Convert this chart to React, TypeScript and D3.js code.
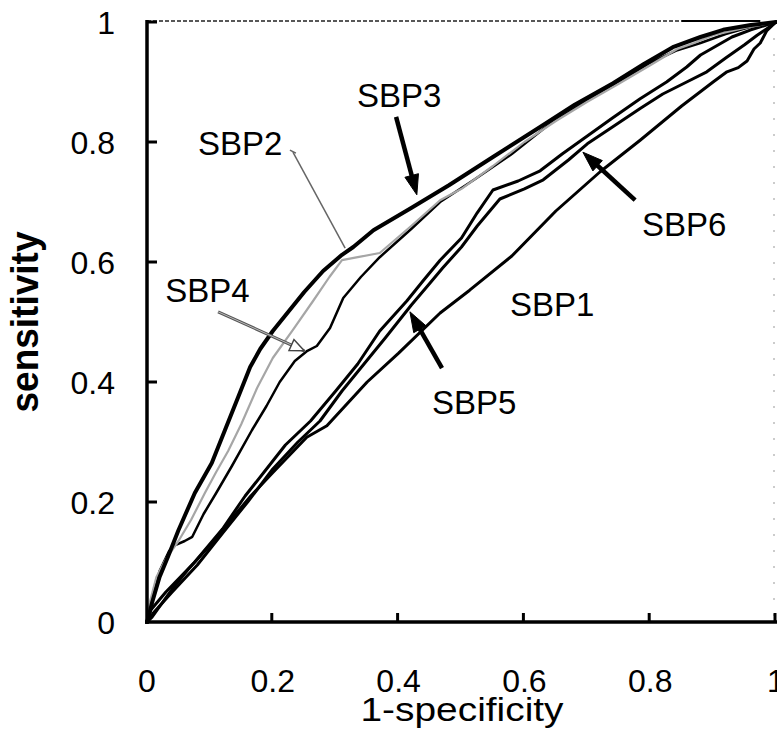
import React, { useEffect, useRef } from "react";
import * as d3 from "d3";

// ROC curves, [1-specificity, sensitivity]
const sbp1 = [
  [0, 0], [0.008, 0.008], [0.04, 0.055], [0.065, 0.087], [0.1, 0.128], [0.129, 0.165],
  [0.165, 0.21], [0.199, 0.248], [0.254, 0.308], [0.286, 0.327], [0.35, 0.4], [0.4, 0.448],
  [0.466, 0.515], [0.513, 0.553], [0.58, 0.61], [0.65, 0.685], [0.72, 0.75], [0.784, 0.803],
  [0.85, 0.86], [0.9, 0.9], [0.922, 0.917], [0.94, 0.924], [0.954, 0.935], [0.965, 0.955],
  [0.975, 0.965], [0.985, 0.985], [1, 1],
];
const sbp2 = [
  [0, 0], [0.005, 0.035], [0.015, 0.075], [0.03, 0.105], [0.05, 0.135], [0.07, 0.17],
  [0.092, 0.215], [0.11, 0.25], [0.129, 0.285], [0.15, 0.33], [0.175, 0.39], [0.2, 0.44],
  [0.232, 0.487], [0.264, 0.535], [0.29, 0.575], [0.31, 0.603], [0.335, 0.608], [0.37, 0.615],
  [0.42, 0.66], [0.466, 0.703], [0.5, 0.722], [0.55, 0.76], [0.6, 0.8], [0.65, 0.835],
  [0.7, 0.867], [0.75, 0.897], [0.8, 0.928], [0.843, 0.955], [0.87, 0.965], [0.9, 0.978],
  [0.95, 0.99], [1, 1],
];
const sbp3 = [
  [0, 0], [0.004, 0.015], [0.008, 0.032], [0.02, 0.075], [0.033, 0.108], [0.05, 0.153],
  [0.076, 0.215], [0.103, 0.265], [0.124, 0.32], [0.145, 0.375], [0.164, 0.425], [0.18, 0.455],
  [0.2, 0.485], [0.25, 0.55], [0.28, 0.585], [0.31, 0.612], [0.328, 0.625], [0.36, 0.653],
  [0.42, 0.69], [0.48, 0.728], [0.55, 0.775], [0.625, 0.825], [0.68, 0.862], [0.741, 0.898],
  [0.79, 0.93], [0.836, 0.958], [0.88, 0.975], [0.916, 0.987], [0.96, 0.995], [1, 1],
];
const sbp4 = [
  [0, 0], [0.008, 0.04], [0.02, 0.085], [0.035, 0.118], [0.045, 0.128], [0.06, 0.135],
  [0.072, 0.142], [0.09, 0.18], [0.11, 0.215], [0.135, 0.26], [0.167, 0.32], [0.19, 0.36],
  [0.211, 0.4], [0.235, 0.435], [0.255, 0.452], [0.27, 0.46], [0.291, 0.49], [0.312, 0.54],
  [0.34, 0.575], [0.37, 0.608], [0.42, 0.655], [0.466, 0.7], [0.52, 0.737], [0.58, 0.78],
  [0.64, 0.83], [0.7, 0.87], [0.75, 0.9], [0.8, 0.932], [0.843, 0.953], [0.88, 0.965],
  [0.92, 0.98], [0.96, 0.992], [1, 1],
];
const sbp5 = [
  [0, 0], [0.006, 0.02], [0.03, 0.05], [0.076, 0.1], [0.12, 0.155], [0.156, 0.21],
  [0.19, 0.255], [0.22, 0.295], [0.26, 0.335], [0.3, 0.385], [0.335, 0.43], [0.37, 0.485],
  [0.413, 0.535], [0.44, 0.57], [0.466, 0.603], [0.5, 0.64], [0.525, 0.682], [0.55, 0.72],
  [0.59, 0.735], [0.625, 0.752], [0.66, 0.78], [0.7, 0.81], [0.74, 0.84], [0.784, 0.872],
  [0.826, 0.9], [0.858, 0.925], [0.88, 0.945], [0.93, 0.975], [0.96, 0.987], [1, 1],
];
const sbp6 = [
  [0, 0], [0.01, 0.015], [0.04, 0.05], [0.08, 0.095], [0.12, 0.148], [0.16, 0.2],
  [0.2, 0.255], [0.24, 0.3], [0.275, 0.335], [0.31, 0.385], [0.345, 0.43], [0.38, 0.475],
  [0.42, 0.528], [0.45, 0.565], [0.47, 0.59], [0.5, 0.625], [0.525, 0.66], [0.561, 0.705],
  [0.6, 0.722], [0.63, 0.737], [0.67, 0.77], [0.7, 0.797], [0.74, 0.825], [0.784, 0.856],
  [0.82, 0.88], [0.858, 0.9], [0.89, 0.917], [0.92, 0.94], [0.95, 0.962], [0.97, 0.978],
  [0.99, 0.992], [1, 1],
];

const ticks = [0, 0.2, 0.4, 0.6, 0.8, 1];
const tickLabels = ["0", "0.2", "0.4", "0.6", "0.8", "1"];

// label anchor (data units) and optional pointer [from, to]
const labels = [
  { name: "SBP1", at: [0.577, 0.51], ptr: null, kind: "none" },
  { name: "SBP2", at: [0.081, 0.778], ptr: [[0.232, 0.783], [0.315, 0.623]], kind: "leader" },
  { name: "SBP3", at: [0.334, 0.858], ptr: [[0.396, 0.842], [0.429, 0.712]], kind: "bold" },
  { name: "SBP4", at: [0.029, 0.533], ptr: [[0.113, 0.517], [0.25, 0.452]], kind: "gray" },
  { name: "SBP5", at: [0.453, 0.347], ptr: [[0.469, 0.423], [0.418, 0.517]], kind: "bold" },
  { name: "SBP6", at: [0.787, 0.643], ptr: [[0.776, 0.703], [0.693, 0.783]], kind: "bold" },
];

const W = 777;
const H = 729;
const FONT = "'Liberation Sans', Arial, Helvetica, sans-serif";

const App = () => {
  const svgRef = useRef(null);

  useEffect(() => {
    const svg = d3.select(svgRef.current);
    svg.selectAll("*").remove();

    const x = d3.scaleLinear().domain([0, 1]).range([147, 776]);
    const y = d3.scaleLinear().domain([0, 1]).range([622, 22]);

    svg.append("rect").attr("width", W).attr("height", H).attr("fill", "#fff");

    // frame: dotted top, faint right side
    svg.append("line")
      .attr("x1", x(0)).attr("x2", x(0.97)).attr("y1", y(1) - 1).attr("y2", y(1) - 1)
      .attr("stroke", "#222").attr("stroke-width", 1.5).attr("stroke-dasharray", "4,2");
    svg.append("line")
      .attr("x1", x(0.85)).attr("x2", x(0.975)).attr("y1", y(1) - 1).attr("y2", y(1) - 1)
      .attr("stroke", "#000").attr("stroke-width", 2);
    svg.append("line")
      .attr("x1", x(1) - 2).attr("x2", x(1) - 2).attr("y1", y(1)).attr("y2", y(0))
      .attr("stroke", "#999").attr("stroke-width", 1).attr("stroke-dasharray", "2,14");

    const line = d3.line().x((d) => x(d[0])).y((d) => y(d[1]));

    const series = [
      { data: sbp1, color: "#000", width: 3 },
      { data: sbp6, color: "#000", width: 3 },
      { data: sbp5, color: "#000", width: 3 },
      { data: sbp4, color: "#000", width: 2.5 },
      { data: sbp2, color: "#a6a6a6", width: 2.2 },
      { data: sbp3, color: "#000", width: 4 },
    ];
    series.forEach((s) => {
      svg.append("path")
        .attr("d", line(s.data))
        .attr("fill", "none")
        .attr("stroke", s.color)
        .attr("stroke-width", s.width)
        .attr("stroke-linejoin", "round")
        .attr("stroke-linecap", "round");
    });

    // axes
    svg.append("line")
      .attr("x1", x(0)).attr("x2", x(0)).attr("y1", y(1) - 2).attr("y2", y(0) + 2)
      .attr("stroke", "#000").attr("stroke-width", 3.5);
    svg.append("line")
      .attr("x1", x(0) - 2).attr("x2", W).attr("y1", y(0)).attr("y2", y(0))
      .attr("stroke", "#000").attr("stroke-width", 3.5);

    const yAxis = svg.append("g");
    yAxis.selectAll("line").data(ticks.slice(1)).enter().append("line")
      .attr("x1", x(0)).attr("x2", x(0) + 10)
      .attr("y1", (d) => y(d)).attr("y2", (d) => y(d))
      .attr("stroke", "#000").attr("stroke-width", 3);
    yAxis.selectAll("text").data(ticks).enter().append("text")
      .attr("x", 115).attr("y", (d) => y(d) + 11.5)
      .attr("text-anchor", "end")
      .attr("font-family", FONT).attr("font-size", 32)
      .text((d, i) => tickLabels[i]);

    const xAxis = svg.append("g");
    xAxis.selectAll("line").data(ticks.slice(1)).enter().append("line")
      .attr("x1", (d) => x(d) - 1).attr("x2", (d) => x(d) - 1)
      .attr("y1", y(0)).attr("y2", y(0) - 9)
      .attr("stroke", "#000").attr("stroke-width", 3);
    xAxis.selectAll("text").data(ticks).enter().append("text")
      .attr("x", (d) => x(d)).attr("y", 692)
      .attr("text-anchor", "middle")
      .attr("font-family", FONT).attr("font-size", 32)
      .text((d, i) => tickLabels[i]);

    svg.append("text")
      .attr("x", 462).attr("y", 721)
      .attr("text-anchor", "middle")
      .attr("font-family", FONT).attr("font-size", 34)
      .attr("textLength", 203).attr("lengthAdjust", "spacingAndGlyphs")
      .text("1-specificity");

    svg.append("text")
      .attr("transform", "translate(38,322) rotate(-90)")
      .attr("text-anchor", "middle")
      .attr("font-family", FONT).attr("font-size", 38).attr("font-weight", "bold")
      .attr("textLength", 181).attr("lengthAdjust", "spacingAndGlyphs")
      .text("sensitivity");

    // annotations
    const arrowHead = (p0, p1, len, half, color, open) => {
      const dx = p1[0] - p0[0];
      const dy = p1[1] - p0[1];
      const L = Math.hypot(dx, dy);
      const ux = dx / L;
      const uy = dy / L;
      const bx = p1[0] - ux * len;
      const by = p1[1] - uy * len;
      const pts = [
        [p1[0], p1[1]],
        [bx - uy * half, by + ux * half],
        [bx + uy * half, by - ux * half],
      ];
      svg.append("polygon")
        .attr("points", pts.map((p) => p.join(",")).join(" "))
        .attr("fill", open ? "#fff" : color)
        .attr("stroke", color)
        .attr("stroke-width", open ? 1.5 : 1)
        .attr("stroke-linejoin", "miter");
    };

    labels.forEach((lb) => {
      svg.append("text")
        .attr("x", x(lb.at[0])).attr("y", y(lb.at[1]))
        .attr("font-family", FONT).attr("font-size", 33)
        .attr("fill", "#000")
        .text(lb.name);
      if (!lb.ptr) return;
      const p0 = [x(lb.ptr[0][0]), y(lb.ptr[0][1])];
      const p1 = [x(lb.ptr[1][0]), y(lb.ptr[1][1])];
      if (lb.kind === "bold") {
        const L = Math.hypot(p1[0] - p0[0], p1[1] - p0[1]);
        const t = (L - 16) / L;
        svg.append("line")
          .attr("x1", p0[0]).attr("y1", p0[1])
          .attr("x2", p0[0] + (p1[0] - p0[0]) * t).attr("y2", p0[1] + (p1[1] - p0[1]) * t)
          .attr("stroke", "#000").attr("stroke-width", 4.5);
        arrowHead(p0, p1, 20, 7, "#000", false);
      } else if (lb.kind === "gray") {
        svg.append("line")
          .attr("x1", p0[0]).attr("y1", p0[1]).attr("x2", p1[0]).attr("y2", p1[1])
          .attr("stroke", "#555").attr("stroke-width", 3);
        svg.append("line")
          .attr("x1", p0[0]).attr("y1", p0[1]).attr("x2", p1[0]).attr("y2", p1[1])
          .attr("stroke", "#bbb").attr("stroke-width", 1);
        arrowHead(p0, p1, 14, 6, "#444", true);
      } else {
        svg.append("line")
          .attr("x1", p0[0]).attr("y1", p0[1]).attr("x2", p1[0]).attr("y2", p1[1])
          .attr("stroke", "#666").attr("stroke-width", 1.5);
        svg.append("line")
          .attr("x1", p0[0] - 3).attr("y1", p0[1] - 2).attr("x2", p0[0] + 3).attr("y2", p0[1] + 1)
          .attr("stroke", "#666").attr("stroke-width", 1.5);
      }
    });
  }, []);

  return (
    <svg
      ref={svgRef}
      width={W}
      height={H}
      style={{ position: "absolute", left: 0, top: 0, display: "block" }}
    ></svg>
  );
};

export default App;
